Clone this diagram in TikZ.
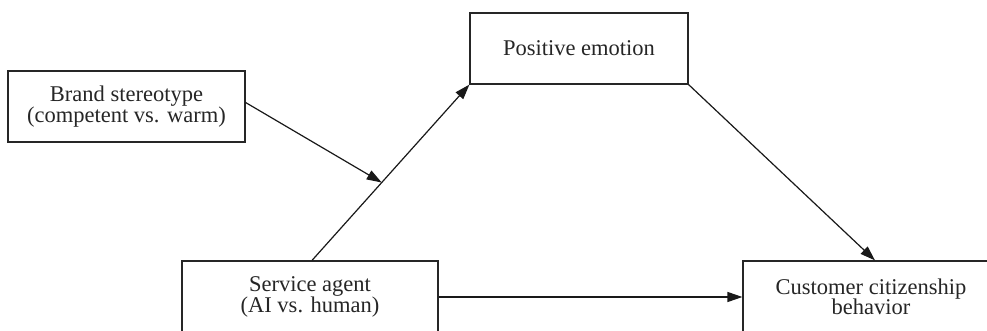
\documentclass[tikz,border=0pt]{standalone}
\usepackage{fontspec}
\setmainfont{Liberation Serif}
\usetikzlibrary{arrows.meta,calc}
\begin{document}
\begin{tikzpicture}[x=1pt,y=-1pt,
  box/.style={draw=black!85, line width=1.2pt, inner sep=0pt, align=center,
    font=\fontsize{22.5}{20.5}\selectfont, text=black!85},
  link/.style={draw=black!90, line width=1.2pt, -{Triangle[length=15pt,width=10pt]}}]
\clip (0,0) rectangle (987,331);
\fill[white] (0,0) rectangle (987,331);
\node[box, minimum width=237pt, minimum height=71pt] (brand) at (126.5,106.5)
  {Brand stereotype\\(competent vs. warm)};
\node[box, minimum width=218pt, minimum height=71pt] (pe) at (579,48.5)
  {Positive emotion};
\node[box, minimum width=256pt, minimum height=72pt] (svc) at (310,297)
  {Service agent\\(AI vs. human)};
\node[box, minimum width=256pt, minimum height=72pt] (cust) at (871,297)
  {Customer citizenship\\behavior};
\draw[link] ($(svc.north)+(2,0)$) -- coordinate[pos=0.443] (mid) (pe.south west);
\draw[link] ($(brand.east)+(0,-4)$) -- (mid);
\draw[link] (pe.south east) -- ($(cust.north)+(4,0)$);
\draw[link] (svc.east) -- (cust.west);
\end{tikzpicture}
\end{document}
